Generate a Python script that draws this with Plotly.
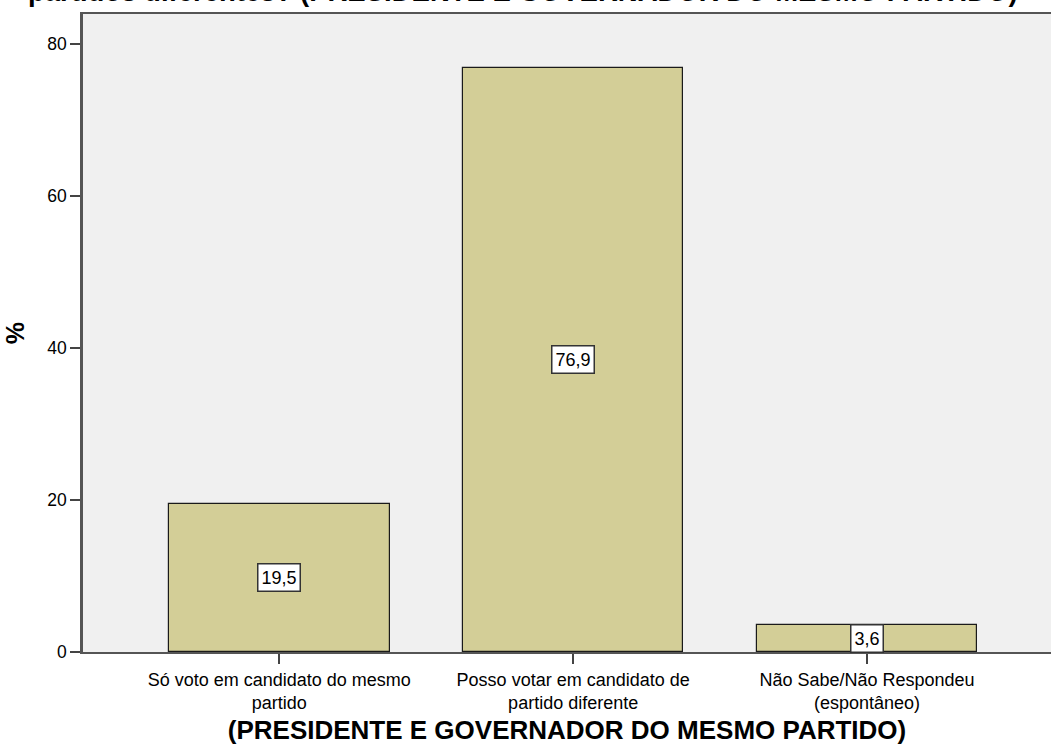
import plotly.graph_objects as go

categories = ["Só voto em candidato do mesmo<br>partido",
              "Posso votar em candidato de<br>partido diferente",
              "Não Sabe/Não Respondeu<br>(espontâneo)"]
values = [19.5, 76.9, 3.6]
y_ticks = [0, 20, 40, 60, 80]

x_title = "(PRESIDENTE E GOVERNADOR DO MESMO PARTIDO)"
top_title = "partidos diferentes? (PRESIDENTE E GOVERNADOR DO MESMO PARTIDO)"
y_title = "%"

FONT = "Liberation Sans, Arial, sans-serif"

fig = go.Figure()
fig.add_trace(go.Bar(
    x=list(range(len(categories))), y=values, width=0.75,
    marker=dict(color="#D3CE97", line=dict(color="#1a1a1a", width=1.2)),
    hoverinfo="skip",
))

for i, v in enumerate(values):
    fig.add_annotation(
        x=i, y=v / 2, xref="x", yref="y",
        text=f"{v:.1f}".replace(".", ","),
        showarrow=False, bgcolor="white", bordercolor="#333333",
        borderwidth=1.5, borderpad=3,
        font=dict(family=FONT, size=18, color="black"),
    )

fig.add_annotation(
    x=0.0, y=1 + 4.5 / 638, xref="paper", yref="paper", xanchor="left", yanchor="bottom",
    xshift=-57, text=f"<b>{top_title}</b>", showarrow=False,
    font=dict(family=FONT, size=27.5, color="black"),
)

fig.update_layout(
    width=1051, height=745,
    margin=dict(l=83, r=0, t=14, b=93),
    paper_bgcolor="white", plot_bgcolor="#F0F0F0",
    showlegend=False, bargap=0,
    xaxis=dict(
        range=[-0.668, 2.626], tickmode="array",
        tickvals=list(range(len(categories))), ticktext=categories,
        ticks="outside", ticklen=10, tickwidth=2, tickcolor="#444444",
        showline=True, linecolor="#555555", linewidth=2, mirror=True,
        showgrid=False, zeroline=False,
        tickfont=dict(family=FONT, size=18, color="black"),
        title=dict(text=f"<b>{x_title}</b>", standoff=12,
                   font=dict(family=FONT, size=26, color="black")),
        fixedrange=True,
    ),
    yaxis=dict(
        range=[0, 83.95], tickmode="array", tickvals=y_ticks,
        ticktext=[str(t) for t in y_ticks],
        ticks="outside", ticklen=10, tickwidth=2, tickcolor="#444444",
        showline=True, linecolor="#555555", linewidth=2.5,
        showgrid=False, zeroline=False,
        tickfont=dict(family=FONT, size=17.5, color="black"),
        title=dict(text=f"<b>{y_title}</b>", standoff=16,
                   font=dict(family=FONT, size=25, color="black")),
        fixedrange=True,
    ),
)

fig.write_html("out.html", config={"displayModeBar": False},
               post_script="document.body.style.margin='0';")
